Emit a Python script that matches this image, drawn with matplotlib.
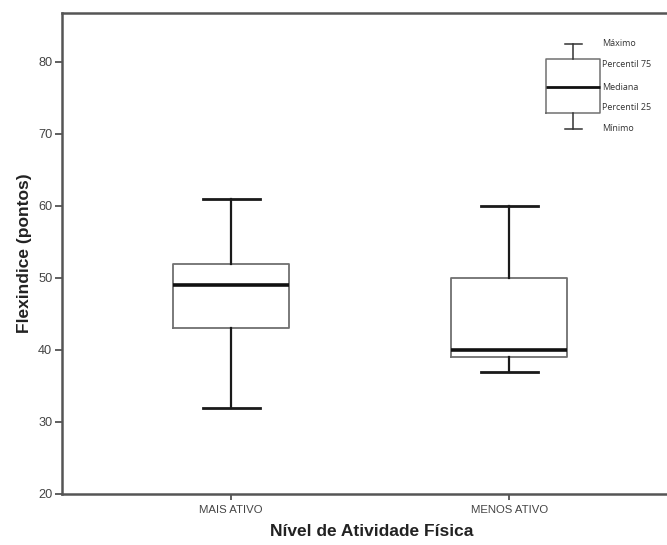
import matplotlib.pyplot as plt

# dados
grupos = ["MAIS ATIVO", "MENOS ATIVO"]
minimo = [32, 37]
p25 = [43, 39]
mediana = [49, 40]
p75 = [52, 50]
maximo = [61, 60]

# legenda (caixa exemplo)
leg_nomes = ["Máximo", "Percentil 75", "Mediana", "Percentil 25", "Mínimo"]
leg_vals = [82.5, 80.4, 76.5, 72.9, 70.7]
leg_txt_y = [82.5, 79.7, 76.5, 73.7, 70.7]

plt.rcParams['font.family'] = ['Liberation Sans', 'DejaVu Sans']

fig = plt.figure(figsize=(6.67, 5.45), dpi=100)
ax = fig.add_axes([62/667, 51/545, 1 - 62/667, 481/545])

stats = []
for i in range(len(grupos)):
    stats.append(dict(med=mediana[i], q1=p25[i], q3=p75[i],
                      whislo=minimo[i], whishi=maximo[i], fliers=[]))

boxprops = dict(color="#707070", linewidth=1.3)
whiskerprops = dict(color="#1a1a1a", linewidth=1.6)
capprops = dict(color="#1a1a1a", linewidth=2.0)
medianprops = dict(color="#111111", linewidth=2.6)

ax.bxp(stats, positions=[1, 2], widths=0.42, capwidths=0.205,
       boxprops=boxprops, whiskerprops=whiskerprops, capprops=capprops,
       medianprops=medianprops, showfliers=False)

# caixa da legenda
leg = [dict(med=leg_vals[2], q1=leg_vals[3], q3=leg_vals[1],
            whislo=leg_vals[4], whishi=leg_vals[0], fliers=[])]
ax.bxp(leg, positions=[2.23], widths=0.194, capwidths=0.061,
       boxprops=dict(color="#707070", linewidth=1.1),
       whiskerprops=dict(color="#333333", linewidth=1.1),
       capprops=dict(color="#333333", linewidth=1.1),
       medianprops=dict(color="#111111", linewidth=2.0),
       showfliers=False, manage_ticks=False)
for nome, yy in zip(leg_nomes, leg_txt_y):
    ax.text(2.335, yy, nome, fontsize=6.5, va="center", ha="left",
            color="#333333", family=["Open Sans", "DejaVu Sans"])

ax.set_xlim(0.392, 2.568)
ax.set_ylim(20, 86.8)
ax.set_xticks([1, 2])
ax.set_xticklabels(grupos, fontsize=8.2, color="#333333")
ax.set_yticks([20, 30, 40, 50, 60, 70, 80])
ax.tick_params(axis="y", labelsize=9.2, colors="#444444", length=5, width=1.2, pad=2)
ax.tick_params(axis="x", colors="#444444", length=4, width=1.2, pad=4)

for s in ["left", "bottom", "top"]:
    ax.spines[s].set_color("#555555")
    ax.spines[s].set_linewidth(1.8)
ax.spines["right"].set_visible(False)

ax.set_ylabel("Flexindice (pontos)", fontsize=12.5, fontweight="bold",
              color="#222222", labelpad=4)
fig.text(372/667, 1 - 531/545, "Nível de Atividade Física", fontsize=12.5,
         fontweight="bold", color="#222222", ha="center", va="center")

fig.savefig("out.png", dpi=100)
